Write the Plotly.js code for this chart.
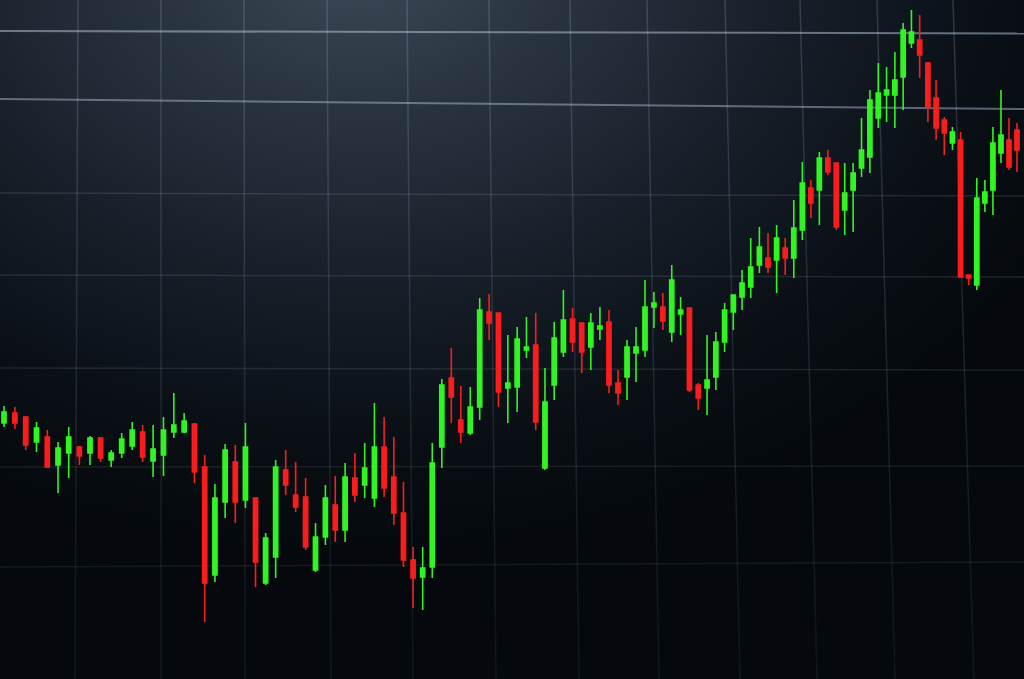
<!DOCTYPE html>
<html>
<head>
<meta charset="utf-8">
<script src="https://cdn.plot.ly/plotly-3.0.1.min.js"></script>
<style>
  html, body { margin: 0; padding: 0; width: 1024px; height: 679px; overflow: hidden; }
  body {
    background: radial-gradient(ellipse 78% 88% at 35% -6%, #3d4957 0%, #2a3441 25%, #161e28 55%, #0a0f15 80%, #05090d 100%);
  }
  #chart { width: 1024px; height: 679px; }
  #chart .boxlayer { filter: blur(0.35px); }
</style>
</head>
<body>
<div id="chart"></div>
<script>
// ---- data ----
const session = Array.from({length: 110}, (_, i) => i + 1);

const open = [
  27.7, 28.7, 28.3, 25.8, 26.3, 23.5, 24.7, 25.3, 24.7, 26.2,
  24.0, 24.7, 25.4, 26.8, 23.9, 24.5, 26.8, 26.8, 27.6, 23.3,
  12.5, 19.8, 23.8, 20.0, 20.2, 11.7, 14.3, 23.0, 20.5, 20.3,
  13.0, 16.3, 19.5, 17.0, 22.2, 21.5, 20.2, 25.3, 22.3, 18.7,
  14.0, 12.3, 13.3, 25.3, 32.2, 28.0, 26.7, 29.3, 38.8, 38.7,
  31.2, 31.3, 35.0, 35.5, 23.2, 31.5, 34.8, 38.1, 37.7, 35.3,
  37.1, 37.8, 31.7, 32.3, 34.7, 35.0, 39.3, 39.3, 36.8, 38.6,
  39.2, 31.5, 31.2, 32.3, 35.8, 38.8, 40.3, 41.3, 43.5, 44.2,
  44.0, 45.2, 44.2, 47.0, 51.2, 51.0, 54.2, 53.7, 49.0, 51.0,
  53.2, 54.3, 58.2, 60.5, 60.5, 62.3, 65.7, 66.0, 63.7, 60.2,
  58.0, 55.7, 56.0, 42.5, 41.5, 49.7, 51.0, 54.7, 56.0, 57.0
];
const high = [
  29.4, 29.3, 28.4, 27.8, 27.0, 25.8, 27.3, 25.4, 26.4, 26.3,
  25.0, 26.7, 27.8, 27.5, 27.5, 28.3, 30.7, 28.7, 27.7, 24.5,
  21.6, 25.6, 25.5, 27.7, 20.2, 16.7, 24.0, 25.0, 23.8, 22.2,
  17.7, 21.5, 22.4, 23.7, 24.7, 25.7, 29.7, 28.3, 26.3, 21.8,
  15.3, 15.3, 25.7, 32.1, 35.2, 31.4, 31.3, 40.2, 40.6, 38.7,
  36.5, 37.3, 38.3, 38.7, 33.2, 37.8, 41.0, 39.2, 37.7, 38.7,
  39.3, 39.0, 33.0, 36.0, 37.3, 42.0, 40.8, 40.7, 43.5, 40.3,
  39.2, 31.7, 36.5, 36.8, 39.7, 40.5, 43.0, 46.2, 47.3, 46.7,
  47.5, 46.2, 50.0, 53.8, 52.0, 54.8, 55.0, 53.7, 53.7, 53.7,
  58.2, 61.0, 63.7, 63.3, 64.8, 67.7, 69.0, 68.5, 63.8, 62.0,
  58.3, 57.3, 56.8, 42.5, 52.2, 52.0, 57.3, 61.0, 58.2, 57.7
];
const low = [
  27.3, 27.1, 25.0, 24.8, 23.2, 20.7, 22.2, 23.5, 23.5, 23.8,
  23.3, 24.2, 25.0, 23.8, 22.3, 22.4, 26.2, 26.7, 21.7,  7.8,
  11.8, 18.2, 17.7, 19.2, 11.3, 11.5, 12.2, 20.5, 18.8, 15.0,
  12.8, 15.5, 15.8, 15.8, 19.8, 20.2, 19.3, 20.3, 17.5, 13.3,
   9.2,  9.0, 12.2, 23.2, 27.7, 25.7, 26.5, 28.0, 36.0, 29.3,
  27.7, 28.8, 34.2, 27.0, 23.0, 30.0, 34.3, 34.8, 32.7, 33.0,
  36.0, 30.7, 29.5, 30.0, 31.8, 34.3, 37.2, 37.0, 35.8, 36.5,
  30.8, 29.0, 28.5, 31.0, 34.8, 37.0, 39.0, 40.2, 42.7, 42.7,
  40.7, 42.5, 42.2, 46.0, 48.2, 47.5, 52.5, 47.0, 46.5, 46.8,
  52.3, 52.7, 57.2, 57.8, 57.2, 59.0, 65.2, 62.2, 57.8, 56.0,
  54.5, 55.0, 42.3, 41.5, 41.0, 48.8, 48.5, 53.7, 53.0, 52.8
];
const close = [
  28.8, 27.7, 25.5, 27.2, 23.3, 25.2, 26.3, 24.4, 26.2, 24.2,
  24.7, 26.1, 27.0, 24.3, 25.1, 27.0, 27.5, 27.9, 22.8, 11.7,
  20.2, 25.0, 19.8, 25.3, 13.8, 16.2, 23.3, 21.5, 19.3, 15.3,
  16.3, 20.2, 17.0, 22.3, 20.5, 23.2, 25.3, 21.2, 18.7, 14.0,
  12.2, 13.2, 23.7, 31.5, 30.3, 26.8, 29.3, 39.0, 37.7, 30.8,
  31.7, 36.1, 35.3, 27.8, 29.8, 36.2, 38.0, 35.8, 34.8, 37.7,
  37.4, 31.5, 30.7, 35.3, 35.3, 39.3, 39.7, 37.9, 42.0, 39.0,
  31.0, 30.2, 32.0, 35.8, 39.0, 40.5, 41.7, 43.3, 45.3, 43.3,
  46.2, 44.2, 47.2, 51.7, 49.7, 54.2, 52.8, 47.3, 50.7, 52.7,
  55.0, 60.0, 60.7, 61.0, 62.0, 67.0, 66.8, 64.5, 59.3, 57.2,
  56.7, 56.8, 42.3, 42.2, 50.2, 50.8, 55.7, 56.5, 53.3, 55.0
];

// ---- styling / view (photo perspective emulated by a log time axis) ----
const PERSPECTIVE = 299;           // offset that sets the perspective compression
const W = 1024, H = 679;
const xs = session.map(s => s + PERSPECTIVE);
const lg0 = Math.log10(xs[0]), lg1 = Math.log10(xs[xs.length - 1]);
const perPx = (lg1 - lg0) / 1013;
const xRange = [lg0 - 4 * perPx, lg1 + 7 * perPx];

const GREEN = '#30f522', RED = '#fa1d1d';

const trace = {
  type: 'candlestick',
  x: xs, open: open, high: high, low: low, close: close,
  increasing: { line: { color: GREEN, width: 1.6 }, fillcolor: GREEN },
  decreasing: { line: { color: RED, width: 1.6 }, fillcolor: RED },
  whiskerwidth: 0,
  hoverinfo: 'skip'
};

// grid (decorative, photo perspective): positions in px of the picture
const vTop = [78, 161, 244, 327, 407, 489, 570, 647, 725, 800, 877, 953];
const vBot = [75, 161, 245, 331, 413, 496, 579, 659, 740, 817, 895, 974];
const hLeft  = [31, 99, 193, 275, 368, 467, 567];
const hRight = [33.5, 109, 196, 277, 370, 466, 562];
const hAlpha = [0.5, 0.45, 0.14, 0.13, 0.12, 0.1, 0.09];
const hWidth = [2, 2, 1.5, 1.5, 1.5, 1.5, 1.5];

const shapes = [];
const SEG = 10;
vTop.forEach((xt, i) => {
  const xb = vBot[i];
  for (let k = 0; k < SEG; k++) {
    const t0 = k / SEG, t1 = (k + 1) / SEG;
    const a = 0.22 - 0.15 * (t0 + t1) / 2;
    shapes.push({
      type: 'line', xref: 'paper', yref: 'paper', layer: 'below',
      x0: (xt + (xb - xt) * t0) / W, x1: (xt + (xb - xt) * t1) / W,
      y0: 1 - t0, y1: 1 - t1,
      line: { color: `rgba(170,195,220,${a.toFixed(3)})`, width: 1.5 }
    });
  }
});
hLeft.forEach((yl, i) => {
  shapes.push({
    type: 'line', xref: 'paper', yref: 'paper', layer: 'below',
    x0: 0, x1: 1, y0: 1 - yl / H, y1: 1 - hRight[i] / H,
    line: { color: `rgba(185,205,228,${hAlpha[i]})`, width: hWidth[i] }
  });
});

const layout = {
  width: W, height: H,
  margin: { l: 0, r: 0, t: 0, b: 0 },
  paper_bgcolor: 'rgba(0,0,0,0)',
  plot_bgcolor: 'rgba(0,0,0,0)',
  showlegend: false,
  hovermode: false,
  boxgap: 0.26,
  xaxis: { type: 'log', range: xRange, visible: false, showgrid: false, zeroline: false,
           rangeslider: { visible: false }, fixedrange: true },
  yaxis: { range: [2.1, 70], visible: false, showgrid: false, zeroline: false, fixedrange: true },
  shapes: shapes
};

Plotly.newPlot('chart', [trace], layout, { staticPlot: true, displayModeBar: false });
</script>
</body>
</html>
